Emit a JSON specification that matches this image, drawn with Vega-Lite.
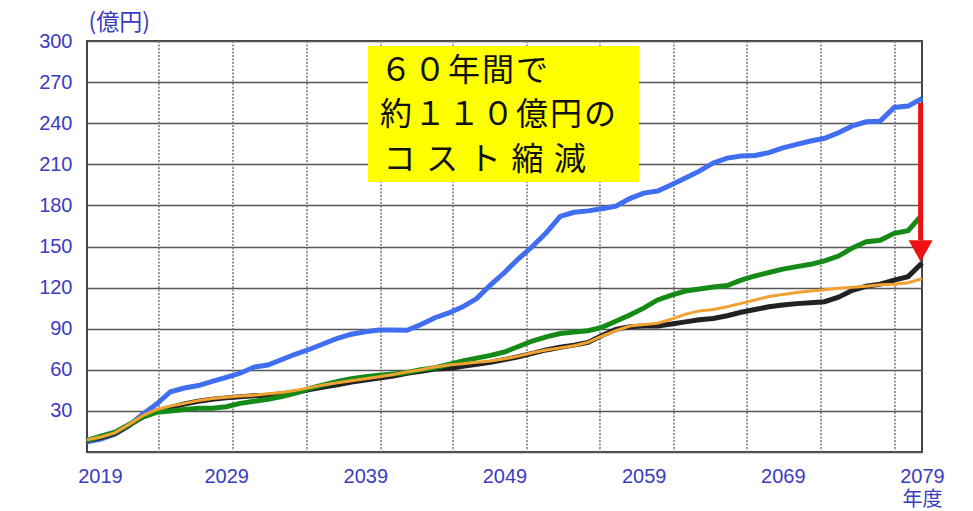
{
  "$schema": "https://vega.github.io/schema/vega-lite/v6.json",
  "width": 835,
  "height": 411,
  "autosize": "none",
  "padding": {"left": 87, "top": 41, "right": 51, "bottom": 59},
  "background": "white",
  "config": {
    "view": {"stroke": "#444444", "strokeWidth": 2},
    "axis": {"labelFont": "Liberation Sans, Noto Sans CJK JP", "labelColor": "#3b3bbf", "labelFontSize": 20, "domain": false, "ticks": false}
  },
  "datasets": {
    "blue": [
      {"year": 2019, "v": 7.5}, {"year": 2020, "v": 9.5}, {"year": 2021, "v": 13}, {"year": 2022, "v": 19}, {"year": 2023, "v": 27.5},
      {"year": 2024, "v": 35}, {"year": 2025, "v": 44}, {"year": 2026, "v": 46.7}, {"year": 2027, "v": 48.5}, {"year": 2028, "v": 51.5},
      {"year": 2029, "v": 54.5}, {"year": 2030, "v": 57.5}, {"year": 2031, "v": 62}, {"year": 2032, "v": 63.5}, {"year": 2033, "v": 67.5},
      {"year": 2034, "v": 71.5}, {"year": 2035, "v": 75}, {"year": 2036, "v": 79}, {"year": 2037, "v": 83}, {"year": 2038, "v": 86},
      {"year": 2039, "v": 87.8}, {"year": 2040, "v": 89}, {"year": 2041, "v": 89}, {"year": 2042, "v": 88.8}, {"year": 2043, "v": 93},
      {"year": 2044, "v": 98}, {"year": 2045, "v": 101.5}, {"year": 2046, "v": 106}, {"year": 2047, "v": 112}, {"year": 2048, "v": 122},
      {"year": 2049, "v": 131}, {"year": 2050, "v": 141}, {"year": 2051, "v": 150}, {"year": 2052, "v": 160}, {"year": 2053, "v": 172},
      {"year": 2054, "v": 175}, {"year": 2055, "v": 176}, {"year": 2056, "v": 177.5}, {"year": 2057, "v": 179.5}, {"year": 2058, "v": 185},
      {"year": 2059, "v": 189}, {"year": 2060, "v": 190.5}, {"year": 2061, "v": 195}, {"year": 2062, "v": 200}, {"year": 2063, "v": 205},
      {"year": 2064, "v": 211}, {"year": 2065, "v": 214.5}, {"year": 2066, "v": 216}, {"year": 2067, "v": 216.5}, {"year": 2068, "v": 218.5},
      {"year": 2069, "v": 222}, {"year": 2070, "v": 224.5}, {"year": 2071, "v": 227}, {"year": 2072, "v": 229}, {"year": 2073, "v": 233},
      {"year": 2074, "v": 238}, {"year": 2075, "v": 241}, {"year": 2076, "v": 241.5}, {"year": 2077, "v": 251.5}, {"year": 2078, "v": 252.5},
      {"year": 2079, "v": 258}
    ],
    "black": [
      {"year": 2019, "v": 8.5}, {"year": 2020, "v": 10.5}, {"year": 2021, "v": 13.5}, {"year": 2022, "v": 19.5}, {"year": 2023, "v": 25.5},
      {"year": 2024, "v": 30}, {"year": 2025, "v": 32.5}, {"year": 2026, "v": 35}, {"year": 2027, "v": 37}, {"year": 2028, "v": 38.5},
      {"year": 2029, "v": 39.5}, {"year": 2030, "v": 40.3}, {"year": 2031, "v": 41}, {"year": 2032, "v": 41.5}, {"year": 2033, "v": 42.5},
      {"year": 2034, "v": 43.5}, {"year": 2035, "v": 45.5}, {"year": 2036, "v": 47.5}, {"year": 2037, "v": 49}, {"year": 2038, "v": 51},
      {"year": 2039, "v": 52.5}, {"year": 2040, "v": 54}, {"year": 2041, "v": 55.5}, {"year": 2042, "v": 57.5}, {"year": 2043, "v": 59},
      {"year": 2044, "v": 60.5}, {"year": 2045, "v": 61}, {"year": 2046, "v": 62.5}, {"year": 2047, "v": 64}, {"year": 2048, "v": 65.5},
      {"year": 2049, "v": 67.5}, {"year": 2050, "v": 69.5}, {"year": 2051, "v": 72}, {"year": 2052, "v": 74.5}, {"year": 2053, "v": 76.5},
      {"year": 2054, "v": 78}, {"year": 2055, "v": 80}, {"year": 2056, "v": 85}, {"year": 2057, "v": 89.5}, {"year": 2058, "v": 91.5},
      {"year": 2059, "v": 92}, {"year": 2060, "v": 92}, {"year": 2061, "v": 93.5}, {"year": 2062, "v": 95}, {"year": 2063, "v": 96.5},
      {"year": 2064, "v": 97.5}, {"year": 2065, "v": 99.5}, {"year": 2066, "v": 102}, {"year": 2067, "v": 104}, {"year": 2068, "v": 106},
      {"year": 2069, "v": 107.3}, {"year": 2070, "v": 108.3}, {"year": 2071, "v": 109}, {"year": 2072, "v": 109.7}, {"year": 2073, "v": 113},
      {"year": 2074, "v": 118}, {"year": 2075, "v": 121}, {"year": 2076, "v": 122.5}, {"year": 2077, "v": 125.5}, {"year": 2078, "v": 128},
      {"year": 2079, "v": 138}
    ],
    "green": [
      {"year": 2019, "v": 8.5}, {"year": 2020, "v": 11.5}, {"year": 2021, "v": 14.5}, {"year": 2022, "v": 20}, {"year": 2023, "v": 25.5},
      {"year": 2024, "v": 29}, {"year": 2025, "v": 30}, {"year": 2026, "v": 31}, {"year": 2027, "v": 32}, {"year": 2028, "v": 32},
      {"year": 2029, "v": 33}, {"year": 2030, "v": 35.5}, {"year": 2031, "v": 37}, {"year": 2032, "v": 38.5}, {"year": 2033, "v": 40.4},
      {"year": 2034, "v": 43}, {"year": 2035, "v": 46.5}, {"year": 2036, "v": 49}, {"year": 2037, "v": 51.5}, {"year": 2038, "v": 53.5},
      {"year": 2039, "v": 55}, {"year": 2040, "v": 56}, {"year": 2041, "v": 57}, {"year": 2042, "v": 58}, {"year": 2043, "v": 60},
      {"year": 2044, "v": 61.5}, {"year": 2045, "v": 64}, {"year": 2046, "v": 66.5}, {"year": 2047, "v": 68.5}, {"year": 2048, "v": 70.5},
      {"year": 2049, "v": 73}, {"year": 2050, "v": 77}, {"year": 2051, "v": 81}, {"year": 2052, "v": 84}, {"year": 2053, "v": 86.5},
      {"year": 2054, "v": 87.5}, {"year": 2055, "v": 88.5}, {"year": 2056, "v": 91}, {"year": 2057, "v": 95.5}, {"year": 2058, "v": 100},
      {"year": 2059, "v": 105}, {"year": 2060, "v": 111}, {"year": 2061, "v": 114.5}, {"year": 2062, "v": 117.5}, {"year": 2063, "v": 119},
      {"year": 2064, "v": 120.5}, {"year": 2065, "v": 121.5}, {"year": 2066, "v": 125.5}, {"year": 2067, "v": 128.5}, {"year": 2068, "v": 131},
      {"year": 2069, "v": 133.5}, {"year": 2070, "v": 135.3}, {"year": 2071, "v": 137}, {"year": 2072, "v": 139.5}, {"year": 2073, "v": 143},
      {"year": 2074, "v": 149}, {"year": 2075, "v": 153.5}, {"year": 2076, "v": 154.5}, {"year": 2077, "v": 159.6}, {"year": 2078, "v": 161.5},
      {"year": 2079, "v": 173}
    ],
    "orange": [
      {"year": 2019, "v": 9}, {"year": 2020, "v": 11}, {"year": 2021, "v": 14}, {"year": 2022, "v": 20}, {"year": 2023, "v": 26.5},
      {"year": 2024, "v": 31}, {"year": 2025, "v": 33.5}, {"year": 2026, "v": 35.5}, {"year": 2027, "v": 37.5}, {"year": 2028, "v": 39},
      {"year": 2029, "v": 40}, {"year": 2030, "v": 40.8}, {"year": 2031, "v": 41.5}, {"year": 2032, "v": 42.5}, {"year": 2033, "v": 43.5},
      {"year": 2034, "v": 45}, {"year": 2035, "v": 47}, {"year": 2036, "v": 49}, {"year": 2037, "v": 50.5}, {"year": 2038, "v": 52},
      {"year": 2039, "v": 53.5}, {"year": 2040, "v": 55}, {"year": 2041, "v": 56.5}, {"year": 2042, "v": 58.5}, {"year": 2043, "v": 60},
      {"year": 2044, "v": 62}, {"year": 2045, "v": 63.5}, {"year": 2046, "v": 64.5}, {"year": 2047, "v": 65.5}, {"year": 2048, "v": 66.5},
      {"year": 2049, "v": 68}, {"year": 2050, "v": 70}, {"year": 2051, "v": 72.5}, {"year": 2052, "v": 74.5}, {"year": 2053, "v": 76},
      {"year": 2054, "v": 77.5}, {"year": 2055, "v": 80}, {"year": 2056, "v": 84.5}, {"year": 2057, "v": 88.5}, {"year": 2058, "v": 92},
      {"year": 2059, "v": 93}, {"year": 2060, "v": 94}, {"year": 2061, "v": 97}, {"year": 2062, "v": 100.5}, {"year": 2063, "v": 103},
      {"year": 2064, "v": 104}, {"year": 2065, "v": 106}, {"year": 2066, "v": 108.5}, {"year": 2067, "v": 111}, {"year": 2068, "v": 113.5},
      {"year": 2069, "v": 115}, {"year": 2070, "v": 116.5}, {"year": 2071, "v": 117.5}, {"year": 2072, "v": 118.5}, {"year": 2073, "v": 119.5},
      {"year": 2074, "v": 120.2}, {"year": 2075, "v": 121}, {"year": 2076, "v": 122}, {"year": 2077, "v": 122.5}, {"year": 2078, "v": 123.5},
      {"year": 2079, "v": 126.5}
    ],
    "vgrid": [
      {"year": 2024.17}, {"year": 2029.49}, {"year": 2034.81}, {"year": 2040.13}, {"year": 2045.3}, {"year": 2050.62},
      {"year": 2055.86}, {"year": 2061.18}, {"year": 2066.43}, {"year": 2071.74}, {"year": 2077.06}
    ],
    "box": [{"x1": 2039.19, "x2": 2058.66, "y1": 296.4, "y2": 197.1}],
    "note": [
      {"year": 2040.05, "v": 278, "t": "６\u200a０\u200a年\u200a間\u200aで"},
      {"year": 2040.05, "v": 246, "t": "約\u200a１\u200a１\u200a０\u200a億\u200a円\u200aの"},
      {"year": 2040.3, "v": 213.1, "t": "コ\u2004ス\u2004ト\u2004縮\u2004減"}
    ],
    "arrow": [{"year": 2078.9, "top": 254.7, "bottom": 154.7, "head": 146.7}]
  },
  "layer": [
    {
      "data": {"name": "vgrid"},
      "mark": {"type": "rule", "color": "#777777", "strokeWidth": 1.5, "strokeDash": [2, 1.5]},
      "encoding": {
        "x": {"field": "year", "type": "quantitative", "scale": {"domain": [2019, 2079], "nice": false, "zero": false},
          "axis": {"values": [2019, 2029, 2039, 2049, 2059, 2069, 2079], "grid": false, "title": null, "labelPadding": 14, "labelBaseline": "top", "labelLineHeight": 23,
            "labelFlush": false, "labelOverlap": false, "labelBound": false,
            "labelOffset": {"condition": {"test": "datum.value == 2019", "value": 13}, "value": 0},
            "labelExpr": "datum.value == 2079 ? ['2079', '年度'] : datum.label", "format": "d"}}
      }
    },
    {
      "data": {"name": "blue"},
      "mark": {"type": "line", "color": "#3f6ef0", "strokeWidth": 5},
      "encoding": {
        "x": {"field": "year", "type": "quantitative"},
        "y": {"field": "v", "type": "quantitative", "scale": {"domain": [0, 300], "nice": false},
          "axis": {"values": [0, 30, 60, 90, 120, 150, 180, 210, 240, 270, 300], "grid": true, "gridColor": "#555555", "gridWidth": 1.5,
            "labelExpr": "datum.value == 0 ? '' : datum.label", "labelPadding": 15, "labelBaseline": "middle",
            "title": "(億円)", "titleAngle": 0, "titleAlign": "left", "titleBaseline": "middle", "titleX": 1, "titleY": -19,
            "titleFont": "Noto Sans CJK JP", "titleFontSize": 23, "titleFontWeight": "normal", "titleColor": "#3b3bbf"}}
      }
    },
    {
      "data": {"name": "black"},
      "mark": {"type": "line", "color": "#222222", "strokeWidth": 5},
      "encoding": {"x": {"field": "year", "type": "quantitative"}, "y": {"field": "v", "type": "quantitative"}}
    },
    {
      "data": {"name": "green"},
      "mark": {"type": "line", "color": "#168a16", "strokeWidth": 5},
      "encoding": {"x": {"field": "year", "type": "quantitative"}, "y": {"field": "v", "type": "quantitative"}}
    },
    {
      "data": {"name": "orange"},
      "mark": {"type": "line", "color": "#f0a232", "strokeWidth": 3},
      "encoding": {"x": {"field": "year", "type": "quantitative"}, "y": {"field": "v", "type": "quantitative"}}
    },
    {
      "data": {"name": "box"},
      "mark": {"type": "rect", "color": "#ffff00"},
      "encoding": {
        "x": {"field": "x1", "type": "quantitative"}, "x2": {"field": "x2"},
        "y": {"field": "y1", "type": "quantitative"}, "y2": {"field": "y2"}
      }
    },
    {
      "data": {"name": "note"},
      "mark": {"type": "text", "align": "left", "baseline": "middle", "font": "Noto Sans CJK JP", "fontSize": 32, "color": "#111111"},
      "encoding": {
        "x": {"field": "year", "type": "quantitative"},
        "y": {"field": "v", "type": "quantitative"},
        "text": {"field": "t", "type": "nominal"}
      }
    },
    {
      "data": {"name": "arrow"},
      "mark": {"type": "rule", "color": "#ee1111", "strokeWidth": 5},
      "encoding": {
        "x": {"field": "year", "type": "quantitative"},
        "y": {"field": "top", "type": "quantitative"}, "y2": {"field": "bottom"}
      }
    },
    {
      "data": {"name": "arrow"},
      "mark": {"type": "point", "shape": "M-1,-0.9L1,-0.9L0,0.9Z", "size": 576, "filled": true, "color": "#ee1111", "opacity": 1, "strokeWidth": 0},
      "encoding": {
        "x": {"field": "year", "type": "quantitative"},
        "y": {"field": "head", "type": "quantitative"}
      }
    }
  ]
}
